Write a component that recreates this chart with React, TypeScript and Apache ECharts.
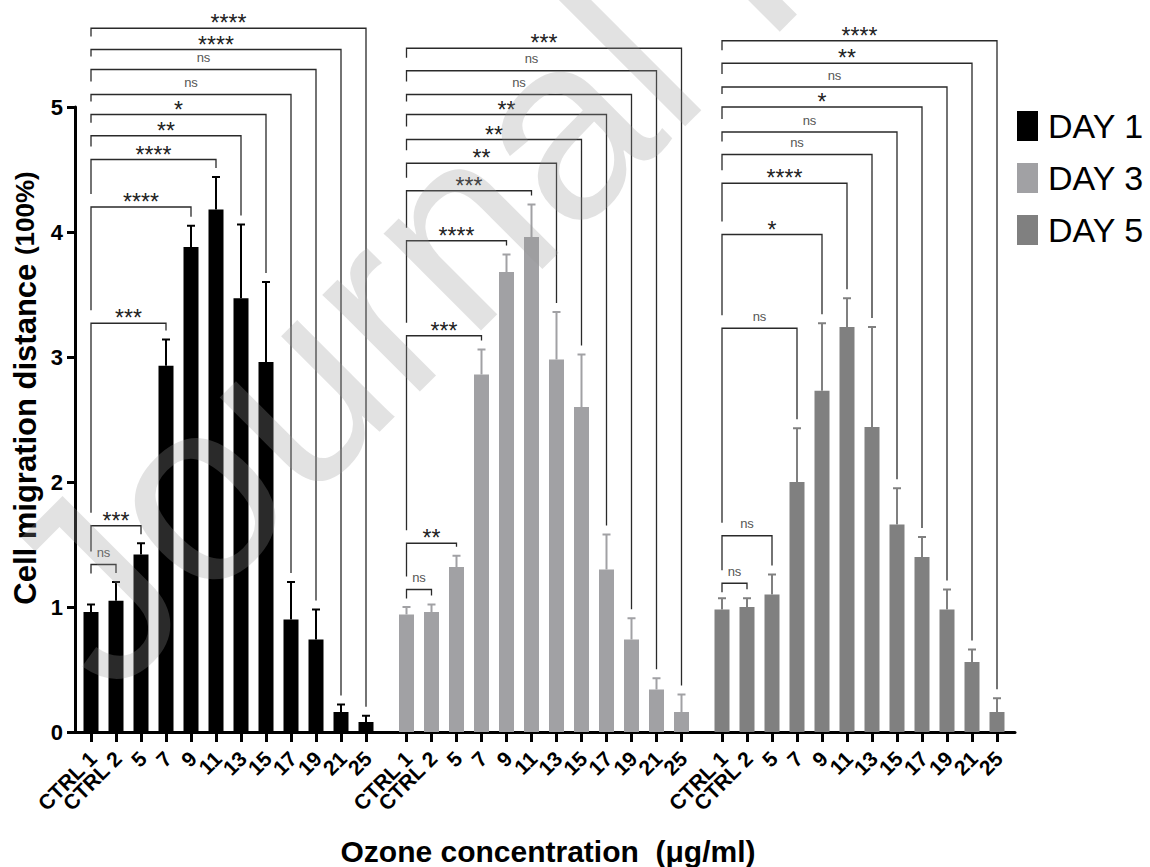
import React, { useEffect, useRef } from 'react';
import * as echarts from 'echarts';

const FONT = '"Liberation Sans", Arial, sans-serif';

const CATEGORIES = ['CTRL 1', 'CTRL 2', '5', '7', '9', '11', '13', '15', '17', '19', '21', '25'];
const DAYS = ['DAY 1', 'DAY 3', 'DAY 5'];
const DAY_COLORS = ['#000000', '#a1a1a4', '#808080'];

const DAY1_MEAN = [0.96, 1.05, 1.42, 2.93, 3.88, 4.18, 3.47, 2.96, 0.9, 0.74, 0.16, 0.08];
const DAY1_ERR = [0.06, 0.15, 0.09, 0.21, 0.17, 0.26, 0.59, 0.64, 0.3, 0.24, 0.06, 0.05];
const DAY3_MEAN = [0.94, 0.96, 1.32, 2.86, 3.68, 3.96, 2.98, 2.6, 1.3, 0.74, 0.34, 0.16];
const DAY3_ERR = [0.06, 0.06, 0.09, 0.2, 0.14, 0.26, 0.38, 0.42, 0.28, 0.17, 0.09, 0.14];
const DAY5_MEAN = [0.98, 1.0, 1.1, 2.0, 2.73, 3.24, 2.44, 1.66, 1.4, 0.98, 0.56, 0.16];
const DAY5_ERR = [0.09, 0.07, 0.16, 0.43, 0.54, 0.23, 0.8, 0.29, 0.16, 0.16, 0.1, 0.11];

// significance vs CTRL 1, for CTRL 2 .. 25
const DAY1_SIG = ['ns', '***', '***', '****', '****', '**', '*', 'ns', 'ns', '****', '****'];
const DAY1_BRACKET_H = [1.34, 1.65, 3.27, 4.2, 4.58, 4.77, 4.94, 5.1, 5.3, 5.46, 5.63];
const DAY3_SIG = ['ns', '**', '***', '****', '***', '**', '**', '**', 'ns', 'ns', '***'];
const DAY3_BRACKET_H = [1.14, 1.51, 3.17, 3.93, 4.33, 4.55, 4.74, 4.94, 5.1, 5.29, 5.47];
const DAY5_SIG = ['ns', 'ns', 'ns', '*', '****', 'ns', 'ns', '*', 'ns', '**', '****'];
const DAY5_BRACKET_H = [1.19, 1.57, 3.23, 3.98, 4.39, 4.62, 4.8, 5.0, 5.16, 5.35, 5.53];

const Y_TICKS = [0, 1, 2, 3, 4, 5];

const GROUP_STEP = 12.62;
const MEANS = [DAY1_MEAN, DAY3_MEAN, DAY5_MEAN];
const ERRS = [DAY1_ERR, DAY3_ERR, DAY5_ERR];
const SIGS = [DAY1_SIG, DAY3_SIG, DAY5_SIG];
const BRACKET_HS = [DAY1_BRACKET_H, DAY3_BRACKET_H, DAY5_BRACKET_H];

const XPOS: number[] = [];
const XLABELS: string[] = [];
for (let g = 0; g < 3; g++)
  for (let i = 0; i < CATEGORIES.length; i++) {
    XPOS.push(g * GROUP_STEP + i);
    XLABELS.push(CATEGORIES[i]);
  }

type Bracket = { x0: number; x1: number; h: number; top: number; lower: number; label: string };
const BRACKETS: Bracket[] = [];
for (let g = 0; g < 3; g++) {
  const hs = BRACKET_HS[g];
  for (let k = 0; k < hs.length; k++) {
    const idx = k + 1;
    BRACKETS.push({
      x0: g * GROUP_STEP,
      x1: g * GROUP_STEP + idx,
      h: hs[k],
      top: MEANS[g][idx] + ERRS[g][idx],
      lower: k > 0 ? hs[k - 1] : -1,
      label: SIGS[g][k],
    });
  }
}

export default function App() {
  const ref = useRef<HTMLDivElement>(null);
  useEffect(() => {
    const chart = echarts.init(ref.current!, null, { renderer: 'svg' });

    const barSeries = DAYS.map((name, g) => ({
      name,
      type: 'bar',
      barWidth: 15,
      barGap: '-100%',
      itemStyle: { color: DAY_COLORS[g] },
      data: MEANS[g].map((v, i) => [g * GROUP_STEP + i, v]),
      z: 2,
    }));

    const errSeries = DAYS.map((name, g) => ({
      name: name + ' err',
      type: 'custom',
      clip: false,
      z: 3,
      data: MEANS[g].map((v, i) => [g * GROUP_STEP + i, v, ERRS[g][i]]),
      encode: { x: 0, y: 1 },
      renderItem: (params: any, api: any) => {
        const x = api.value(0);
        const v = api.value(1);
        const e = api.value(2);
        const p0 = api.coord([x, v]);
        const p1 = api.coord([x, v + e]);
        const st = { stroke: DAY_COLORS[g], lineWidth: 2 };
        return {
          type: 'group',
          children: [
            { type: 'line', shape: { x1: p0[0], y1: p0[1], x2: p1[0], y2: p1[1] }, style: st },
            { type: 'line', shape: { x1: p1[0] - 4, y1: p1[1], x2: p1[0] + 4, y2: p1[1] }, style: st },
          ],
        };
      },
    }));

    const bracketSeries = {
      name: 'brackets',
      type: 'custom',
      clip: false,
      z: 4,
      data: BRACKETS.map((b) => [b.x0, b.h]),
      encode: { x: 0, y: 1 },
      renderItem: (params: any, api: any) => {
        const b = BRACKETS[params.dataIndex];
        const pL = api.coord([b.x0, b.h]);
        const pR = api.coord([b.x1, b.h]);
        const rBottom = api.coord([b.x1, b.top])[1] - 9;
        const lBottom = b.lower >= 0 ? api.coord([b.x0, b.lower])[1] - 13 : pL[1] + 9;
        const isNs = b.label === 'ns';
        return {
          type: 'group',
          children: [
            {
              type: 'polyline',
              shape: { points: [[pL[0], lBottom], [pL[0], pL[1]], [pR[0], pR[1]], [pR[0], Math.max(rBottom, pR[1] + 3)]] },
              style: { stroke: '#2a2a2a', lineWidth: 1.3, fill: 'none' },
            },
            {
              type: 'text',
              x: (pL[0] + pR[0]) / 2,
              y: isNs ? pL[1] - 12 : pL[1] - 5,
              style: {
                text: b.label,
                font: isNs ? `13px ${FONT}` : `23px ${FONT}`,
                fill: isNs ? '#555' : '#222',
                align: 'center',
                verticalAlign: 'middle',
              },
            },
          ],
        };
      },
    };

    // category tick labels, drawn at the axis positions
    const labelSeries = {
      name: 'xlabels',
      type: 'custom',
      clip: false,
      z: 5,
      silent: true,
      data: XPOS.map((x) => [x, 0]),
      encode: { x: 0, y: 1 },
      renderItem: (params: any, api: any) => {
        const p = api.coord([api.value(0), 0]);
        return {
          type: 'text',
          x: p[0] + 2,
          y: p[1] + 23,
          rotation: Math.PI / 4,
          style: {
            text: XLABELS[params.dataIndex],
            font: `bold 21px ${FONT}`,
            fill: '#000',
            align: 'right',
            verticalAlign: 'middle',
          },
        };
      },
    };

    const option: any = {
      animation: false,
      backgroundColor: '#ffffff',
      grid: { left: 75, right: 135, top: 107, bottom: 135 },
      legend: {
        data: DAYS,
        orient: 'vertical',
        left: 1012,
        top: 104,
        icon: 'rect',
        itemWidth: 21,
        itemHeight: 30,
        itemGap: 18,
        textStyle: { fontSize: 34, color: '#000', fontFamily: FONT, padding: [0, 0, 0, 5] },
        selectedMode: false,
      },
      xAxis: {
        type: 'value',
        min: -0.64,
        max: 36.96,
        splitLine: { show: false },
        axisLine: { show: true, onZero: false, lineStyle: { width: 3, color: '#000' } },
        axisTick: { show: true, customValues: XPOS, length: 10, lineStyle: { width: 3, color: '#000' } },
        axisLabel: { show: false },
      },
      yAxis: {
        type: 'value',
        min: Y_TICKS[0],
        max: Y_TICKS[Y_TICKS.length - 1],
        interval: 1,
        splitLine: { show: false },
        axisLine: { show: true, onZero: false, lineStyle: { width: 3, color: '#000' } },
        axisTick: { show: true, length: 8, lineStyle: { width: 3, color: '#000' } },
        axisLabel: { fontSize: 22, fontWeight: 'bold', color: '#000', margin: 12, fontFamily: FONT },
      },
      graphic: [
        {
          type: 'text',
          x: 25,
          y: 388,
          rotation: Math.PI / 2,
          style: {
            text: '{a|Cell migration distance }{b|(100%)}',
            font: `bold 31px ${FONT}`,
            rich: {
              a: { font: `bold 31px ${FONT}`, fill: '#000' },
              b: { font: `bold 26px ${FONT}`, fill: '#000' },
            },
            fill: '#000',
            align: 'center',
            verticalAlign: 'middle',
          },
        },
        {
          type: 'text',
          x: 548,
          y: 851,
          style: {
            text: 'Ozone concentration  (μg/ml)',
            font: `bold 30px ${FONT}`,
            fill: '#000',
            align: 'center',
            verticalAlign: 'middle',
          },
        },
        {
          type: 'text',
          z: 100,
          x: 139,
          y: 729,
          rotation: Math.PI / 4,
          silent: true,
          style: {
            text: 'Journal Pre-proof',
            font: `260px ${FONT}`,
            fill: 'rgba(150,150,150,0.28)',
            align: 'left',
            verticalAlign: 'bottom',
          },
        },
      ],
      series: [...barSeries, ...errSeries, bracketSeries, labelSeries],
    };

    chart.setOption(option);
    return () => chart.dispose();
  }, []);
  return (
    <div
      ref={ref}
      style={{ position: 'fixed', left: 0, top: 0, width: 1150, height: 867, background: '#fff' }}
    />
  );
}
